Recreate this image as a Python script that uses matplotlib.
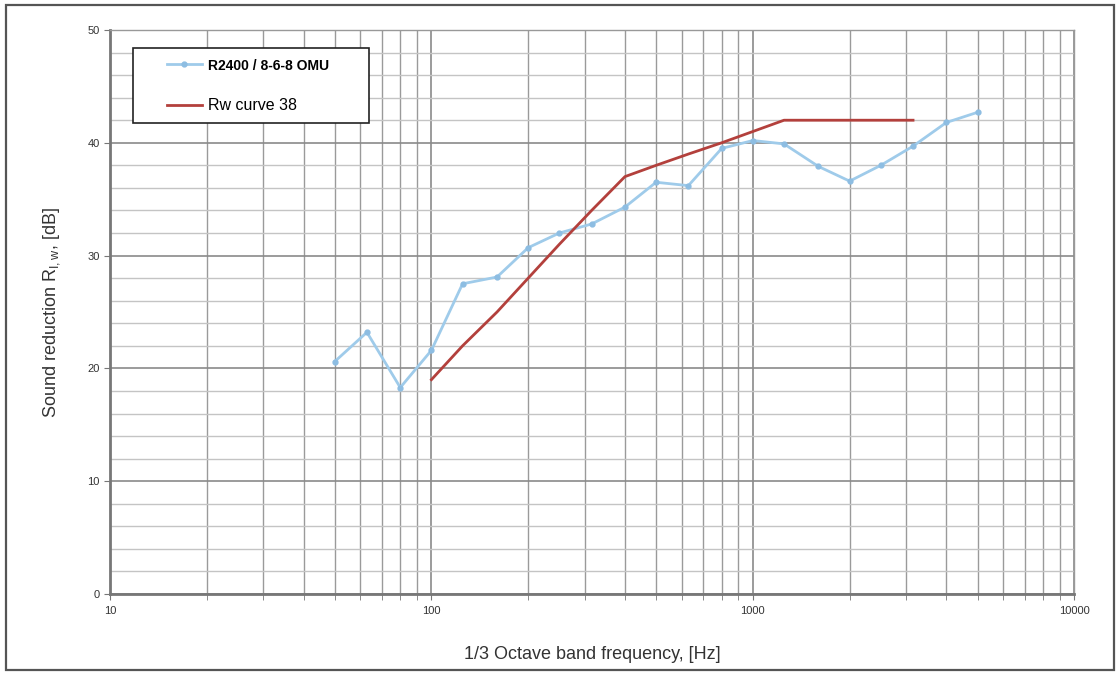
import matplotlib
matplotlib.use("Agg")
import matplotlib.pyplot as plt
from matplotlib.ticker import LogLocator, MultipleLocator, NullFormatter, FixedLocator
from matplotlib.patches import Rectangle

# 1/3 octave band centre frequencies
freq = [50, 63, 80, 100, 125, 160, 200, 250, 315, 400, 500, 630,
        800, 1000, 1250, 1600, 2000, 2500, 3150, 4000, 5000]
measured = [20.6, 23.2, 18.3, 21.6, 27.5, 28.1, 30.7, 32.0, 32.8, 34.3, 36.5,
            36.2, 39.5, 40.2, 39.9, 37.9, 36.6, 38.0, 39.7, 41.8, 42.7]

ref_freq = [100, 125, 160, 200, 250, 315, 400, 500, 630, 800, 1000,
            1250, 1600, 2000, 2500, 3150]
ref_curve = [19, 22, 25, 28, 31, 34, 37, 38, 39, 40, 41, 42, 42, 42, 42, 42]

plt.rcParams['font.family'] = ['Liberation Sans', 'DejaVu Sans']

fig = plt.figure(figsize=(11.2, 6.75), dpi=100)
ax = fig.add_axes([0.0982, 0.12, 0.861, 0.8356])

# outer frame round the whole chart
fig.patches.append(Rectangle((0.005, 0.008), 0.99, 0.984, transform=fig.transFigure,
                             fill=False, edgecolor='#555555', linewidth=1.6))

ax.plot(freq, measured, color='#9fcbea', linewidth=2, marker='o', markersize=3.5,
        markerfacecolor='#8dbde2', markeredgecolor='#8dbde2',
        label='R2400 / 8-6-8 OMU')
ax.plot(ref_freq, ref_curve, color='#b3403c', linewidth=2, label='Rw curve 38')

ax.set_xscale('log')
ax.set_xlim(10, 10000)
ax.set_ylim(0, 50)
ax.xaxis.set_major_locator(FixedLocator([10, 100, 1000, 10000]))
ax.xaxis.set_major_formatter(matplotlib.ticker.FuncFormatter(lambda v, p: f"{int(v)}"))
ax.xaxis.set_minor_locator(LogLocator(base=10, subs=range(2, 10)))
ax.xaxis.set_minor_formatter(NullFormatter())
ax.yaxis.set_major_locator(MultipleLocator(10))
ax.yaxis.set_minor_locator(MultipleLocator(2))

ax.grid(which='major', axis='both', color='#8a8a8a', linewidth=1.2)
ax.grid(which='minor', axis='x', color='#9a9a9a', linewidth=1.0)
ax.grid(which='minor', axis='y', color='#c4c4c4', linewidth=1.0)
ax.set_axisbelow(True)

for side in ['left', 'bottom']:
    ax.spines[side].set_color('#777777')
    ax.spines[side].set_linewidth(2)
for side in ['top', 'right']:
    ax.spines[side].set_color('#999999')
    ax.spines[side].set_linewidth(1)

ax.tick_params(which='both', direction='out', colors='#777777', labelcolor='#333333',
               labelsize=8)
ax.tick_params(which='major', length=4)
ax.tick_params(which='minor', length=4)
ax.tick_params(axis='y', which='minor', length=0)
ax.tick_params(axis='x', pad=5)

ax.set_xlabel('1/3 Octave band frequency, [Hz]', fontsize=13, color='#333333', labelpad=21)
ax.set_ylabel(r'Sound reduction R$_{\mathregular{I,w}}$, [dB]', fontsize=13,
              color='#333333', labelpad=18)

# legend box drawn by hand so it matches the wide frame of the original
ax.add_patch(Rectangle((0.0239, 0.835), 0.2448, 0.133, transform=ax.transAxes,
                       facecolor='white', edgecolor='#222222', linewidth=1.2, zorder=4))
leg = ax.legend(loc='center left', bbox_to_anchor=(0.059, 0.9005), frameon=False,
                fontsize=11.5, borderpad=0, borderaxespad=0, labelspacing=1.6,
                handlelength=2.2, handletextpad=0.35)
leg.set_zorder(5)
leg.get_texts()[0].set_fontweight('bold')
leg.get_texts()[0].set_fontsize(10)

fig.savefig('out.png', dpi=100)
